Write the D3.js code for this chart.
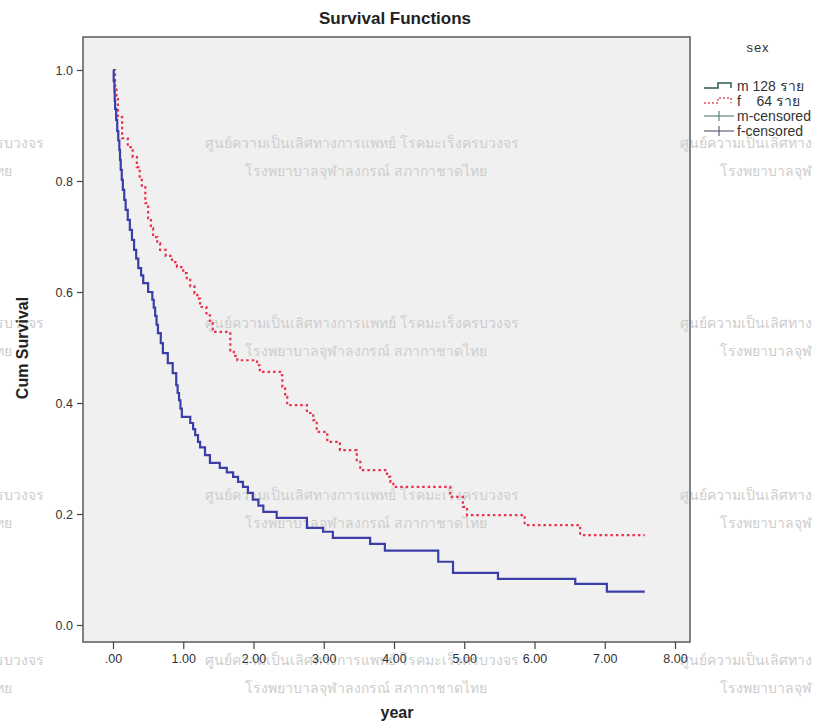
<!DOCTYPE html>
<html>
<head>
<meta charset="utf-8">
<script src="https://cdn.jsdelivr.net/npm/d3@7"></script>
<style>
  html, body { margin: 0; padding: 0; background: #ffffff; }
  svg { display: block; }
</style>
</head>
<body>
<svg id="chart" width="813" height="724"></svg>
<script>
// ---------- data ----------
const xTicks = [0, 1, 2, 3, 4, 5, 6, 7, 8];
const yTicks = [0, 0.2, 0.4, 0.6, 0.8, 1.0];

const maleTime = [0, 0.01, 0.02, 0.025, 0.03, 0.045, 0.06, 0.075, 0.09, 0.10, 0.11, 0.125, 0.14, 0.16, 0.18, 0.21, 0.24, 0.27, 0.30, 0.33, 0.36, 0.40, 0.43, 0.50, 0.56, 0.58, 0.60, 0.62, 0.64, 0.68, 0.71, 0.78, 0.85, 0.90, 0.92, 0.94, 0.96, 0.98, 1.10, 1.14, 1.17, 1.21, 1.24, 1.31, 1.38, 1.52, 1.62, 1.71, 1.78, 1.85, 1.92, 1.99, 2.07, 2.14, 2.33, 2.76, 2.99, 3.13, 3.66, 3.87, 4.63, 4.84, 5.48, 6.58, 7.03, 7.57];
const maleSurv = [1.0, 0.98, 0.96, 0.945, 0.93, 0.91, 0.89, 0.873, 0.856, 0.838, 0.82, 0.802, 0.784, 0.766, 0.748, 0.73, 0.712, 0.694, 0.676, 0.66, 0.643, 0.63, 0.616, 0.60, 0.586, 0.572, 0.557, 0.541, 0.526, 0.508, 0.49, 0.472, 0.454, 0.432, 0.418, 0.405, 0.39, 0.375, 0.364, 0.353, 0.342, 0.33, 0.32, 0.306, 0.292, 0.283, 0.275, 0.267, 0.258, 0.249, 0.238, 0.226, 0.215, 0.204, 0.193, 0.175, 0.168, 0.157, 0.146, 0.134, 0.114, 0.094, 0.083, 0.074, 0.060, 0.060];

const femaleTime = [0, 0.03, 0.05, 0.07, 0.13, 0.21, 0.28, 0.34, 0.38, 0.41, 0.46, 0.50, 0.54, 0.57, 0.63, 0.67, 0.75, 0.84, 0.91, 1.00, 1.05, 1.10, 1.16, 1.20, 1.24, 1.33, 1.38, 1.42, 1.67, 1.72, 1.77, 2.05, 2.09, 2.38, 2.41, 2.45, 2.48, 2.76, 2.85, 2.90, 3.05, 3.23, 3.47, 3.52, 3.90, 3.95, 3.99, 4.80, 4.98, 5.04, 5.86, 6.65, 7.57];
const femaleSurv = [1.0, 0.97, 0.95, 0.915, 0.877, 0.861, 0.843, 0.825, 0.805, 0.789, 0.76, 0.733, 0.715, 0.699, 0.688, 0.676, 0.665, 0.654, 0.645, 0.634, 0.622, 0.61, 0.598, 0.588, 0.573, 0.558, 0.544, 0.528, 0.495, 0.485, 0.477, 0.468, 0.456, 0.45, 0.43, 0.411, 0.396, 0.382, 0.369, 0.348, 0.33, 0.315, 0.297, 0.279, 0.267, 0.258, 0.249, 0.231, 0.213, 0.198, 0.18, 0.162, 0.162];

const legendTitle = "sex";
const legendLabels = ["m 128 ราย", "f    64 ราย", "m-censored", "f-censored"];

const watermarkLine1 = "ศูนย์ความเป็นเลิศทางการแพทย์ โรคมะเร็งครบวงจร";
const watermarkLine2 = "โรงพยาบาลจุฬาลงกรณ์ สภากาชาดไทย";

// ---------- layout ----------
const frame = { left: 83, top: 37, right: 690, bottom: 642 };
const svg = d3.select("#chart");
const x = d3.scaleLinear().domain([0, 8]).range([113, 675]);
const y = d3.scaleLinear().domain([0, 1]).range([625, 70]);

// plot background
svg.append("rect")
  .attr("x", frame.left).attr("y", frame.top)
  .attr("width", frame.right - frame.left).attr("height", frame.bottom - frame.top)
  .attr("fill", "#f0f0f0");

// watermark
const wmG = svg.append("g").attr("font-family", "Noto Sans, sans-serif")
  .attr("font-size", 14).attr("fill", "#cdcdcd");
const wmCols = [-270, 205, 680];
const wmRows = [143, 323, 495, 660];
wmRows.forEach(ry => {
  wmCols.forEach(cx => {
    wmG.append("text").attr("x", cx).attr("y", ry + 5).text(watermarkLine1);
    wmG.append("text").attr("x", cx + 40).attr("y", ry + 33).text(watermarkLine2);
  });
});

// frame
svg.append("rect")
  .attr("x", frame.left).attr("y", frame.top)
  .attr("width", frame.right - frame.left).attr("height", frame.bottom - frame.top)
  .attr("fill", "none").attr("stroke", "#5a5a5a").attr("stroke-width", 1.5);

// axes
const xAxis = d3.axisBottom(x).tickValues(xTicks).tickSize(7).tickPadding(5)
  .tickFormat(d => d === 0 ? ".00" : d.toFixed(2));
const gx = svg.append("g").attr("transform", `translate(0,${frame.bottom})`).call(xAxis);
gx.select(".domain").remove();
gx.selectAll("line").attr("stroke", "#444").attr("stroke-width", 1.2);
gx.selectAll("text").attr("font-family", "Liberation Sans, Arial, sans-serif")
  .attr("font-size", 12.5).attr("fill", "#333");

const yAxis = d3.axisLeft(y).tickValues(yTicks).tickSize(6).tickPadding(4)
  .tickFormat(d3.format(".1f"));
const gy = svg.append("g").attr("transform", `translate(${frame.left},0)`).call(yAxis);
gy.select(".domain").remove();
gy.selectAll("line").attr("stroke", "#444").attr("stroke-width", 1.2);
gy.selectAll("text").attr("font-family", "Liberation Sans, Arial, sans-serif")
  .attr("font-size", 12.5).attr("fill", "#333");

// titles
svg.append("text").attr("x", 395).attr("y", 24).attr("text-anchor", "middle")
  .attr("font-family", "Liberation Sans, Arial, sans-serif").attr("font-weight", "bold")
  .attr("font-size", 17).attr("fill", "#222").text("Survival Functions");
svg.append("text").attr("x", 397).attr("y", 718).attr("text-anchor", "middle")
  .attr("font-family", "Liberation Sans, Arial, sans-serif").attr("font-weight", "bold")
  .attr("font-size", 16).attr("fill", "#222").text("year");
svg.append("text").attr("transform", "translate(28,348) rotate(-90)").attr("text-anchor", "middle")
  .attr("font-family", "Liberation Sans, Arial, sans-serif").attr("font-weight", "bold")
  .attr("font-size", 16).attr("fill", "#222").text("Cum Survival");

// curves
const line = d3.line().x(d => x(d[0])).y(d => y(d[1])).curve(d3.curveStepAfter);
const maleData = maleTime.map((t, i) => [t, maleSurv[i]]);
const femaleData = femaleTime.map((t, i) => [t, femaleSurv[i]]);

svg.append("path").datum(femaleData).attr("d", line)
  .attr("fill", "none").attr("stroke", "#e8324e").attr("stroke-width", 2.2)
  .attr("stroke-dasharray", "2.5,3");
svg.append("path").datum(maleData).attr("d", line)
  .attr("fill", "none").attr("stroke", "#3c3ea8").attr("stroke-width", 2.2);

// legend
const lg = svg.append("g").attr("font-family", "Liberation Sans, Arial, sans-serif")
  .attr("font-size", 14).attr("fill", "#333");
lg.append("text").attr("x", 758).attr("y", 52).attr("text-anchor", "middle")
  .attr("font-size", 13).attr("letter-spacing", 1).text(legendTitle);
const rowY = [86, 101, 116, 131];
legendLabels.forEach((lab, i) => {
  lg.append("text").attr("x", 737).attr("y", rowY[i] + 5)
    .style("white-space", "pre").text(lab);
});
// legend symbols
const sx = 704;
lg.append("path")
  .attr("d", `M${sx},${rowY[0]+2} H${sx+14} V${rowY[0]-3} H${sx+27} V${rowY[0]+2}`)
  .attr("fill", "none").attr("stroke", "#2f5a52").attr("stroke-width", 1.5);
lg.append("path")
  .attr("d", `M${sx},${rowY[1]+2} H${sx+14} V${rowY[1]-3} H${sx+27} V${rowY[1]+2}`)
  .attr("fill", "none").attr("stroke", "#e0506a").attr("stroke-width", 1.5)
  .attr("stroke-dasharray", "2,2");
[[2, "#5a8a7a"], [3, "#6a5a7a"]].forEach(([i, c]) => {
  lg.append("line").attr("x1", sx).attr("x2", sx + 30).attr("y1", rowY[i]).attr("y2", rowY[i])
    .attr("stroke", c).attr("stroke-width", 1.2);
  lg.append("line").attr("x1", sx + 15).attr("x2", sx + 15).attr("y1", rowY[i] - 5).attr("y2", rowY[i] + 5)
    .attr("stroke", c).attr("stroke-width", 1.2);
});
</script>
</body>
</html>
